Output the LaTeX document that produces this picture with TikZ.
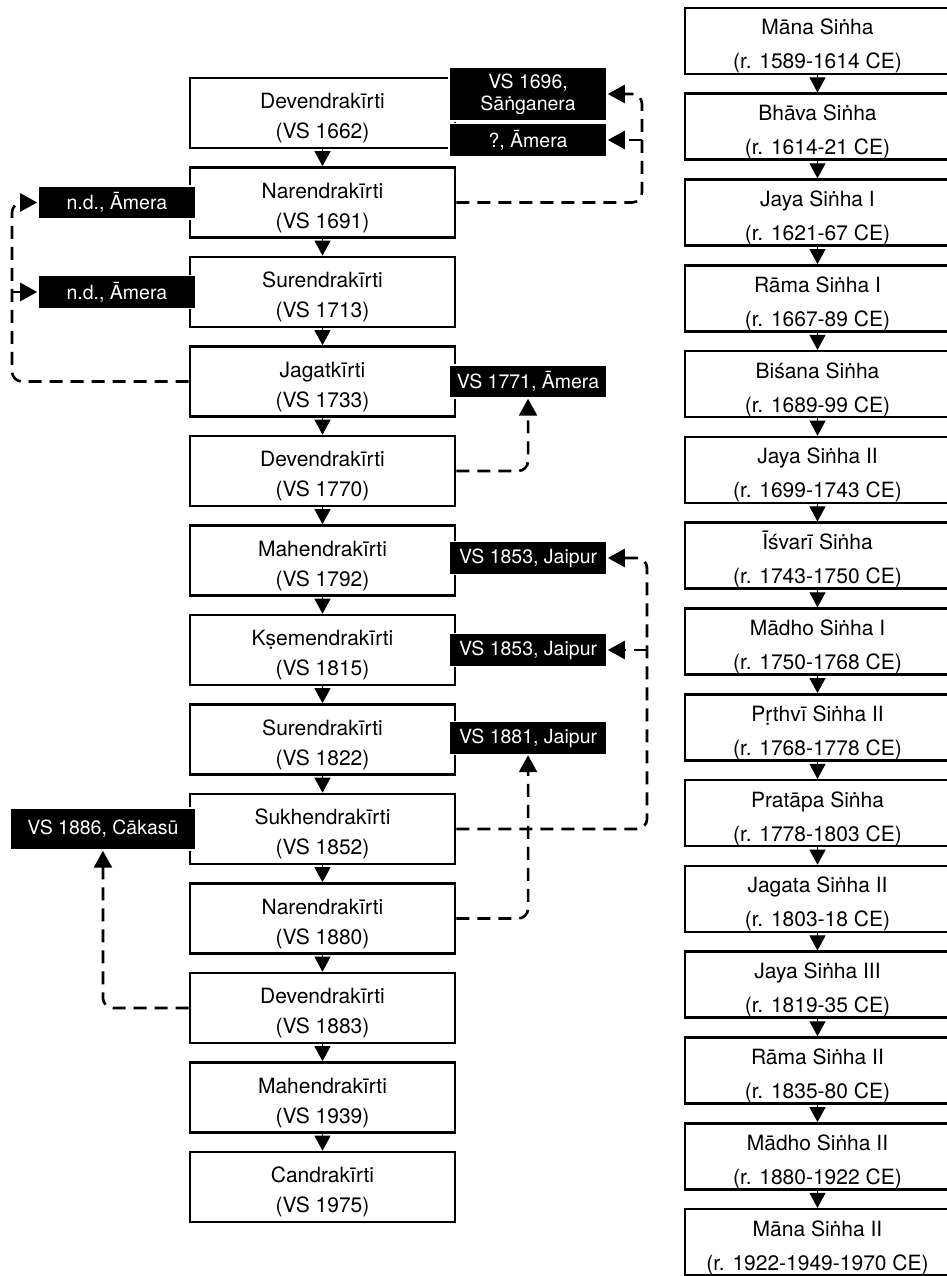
\documentclass[tikz,border=0pt]{standalone}
\usepackage{fontspec}
\setmainfont{TeX Gyre Heros}
\usetikzlibrary{positioning,graphs,arrows.meta}

\begin{document}
\begin{tikzpicture}[x=1pt, y=1pt,
  full/.style={rectangle, draw, line width=2.6pt, fill=white, minimum width=265pt,
    minimum height=70pt, inner sep=0pt, align=center, text height=55pt, text depth=3pt,
    font=\fontsize{21}{30}\selectfont},
  rull/.style={full, minimum height=66pt, text height=59pt,
    font=\fontsize{21}{34}\selectfont},
  tag/.style={rectangle, fill=black, draw=white, line width=1.5pt, text=white,
    minimum width=158pt, minimum height=33pt, inner sep=0pt, align=center,
    font=\fontsize{19.5}{22}\selectfont},
  link/.style={line width=2.6pt, dash pattern=on 13pt off 8pt, rounded corners=10pt,
    -{Triangle[width=18pt,length=17pt]}},
  down/.style={line width=1pt, >={Triangle[width=16pt,length=15pt]}}]
\useasboundingbox (0,0) rectangle (946,1276);

\begin{scope}[shift={(322.5,1163)}]
\graph [grow down=89.5pt, nodes={full}, edges={down}]
  { dev1 [as={Devendrakīrti\\(VS 1662)}] -> nar1 [as={Narendrakīrti\\(VS 1691)}]
    -> sur1 [as={Surendrakīrti\\(VS 1713)}] -> jag1 [as={Jagatkīrti\\(VS 1733)}]
    -> dev2 [as={Devendrakīrti\\(VS 1770)}] -> mah1 [as={Mahendrakīrti\\(VS 1792)}]
    -> ksm [as={Kṣemendrakīrti\\(VS 1815)}] -> sur2 [as={Surendrakīrti\\(VS 1822)}]
    -> suk [as={Sukhendrakīrti\\(VS 1852)}] -> nar2 [as={Narendrakīrti\\(VS 1880)}]
    -> dev3 [as={Devendrakīrti\\(VS 1883)}] -> mah2 [as={Mahendrakīrti\\(VS 1939)}]
    -> can [as={Candrakīrti\\(VS 1975)}];
  };
\end{scope}

\begin{scope}[shift={(817.5,1235)}]
\graph [grow down=85.8pt, nodes={rull}, edges={down}]
  { man1 [as={Māna Siṅha\\(r. 1589-1614 CE)}] -> bha [as={Bhāva Siṅha\\(r. 1614-21 CE)}]
    -> jay1 [as={Jaya Siṅha I\\(r. 1621-67 CE)}] -> ram1 [as={Rāma Siṅha I\\(r. 1667-89 CE)}]
    -> bis [as={Biśana Siṅha\\(r. 1689-99 CE)}] -> jay2 [as={Jaya Siṅha II\\(r. 1699-1743 CE)}]
    -> isv [as={Īśvarī Siṅha\\(r. 1743-1750 CE)}] -> mad1 [as={Mādho Siṅha I\\(r. 1750-1768 CE)}]
    -> prt [as={Pṛthvī Siṅha II\\(r. 1768-1778 CE)}] -> pra [as={Pratāpa Siṅha\\(r. 1778-1803 CE)}]
    -> jag2 [as={Jagata Siṅha II\\(r. 1803-18 CE)}] -> jay3 [as={Jaya Siṅha III\\(r. 1819-35 CE)}]
    -> ram2 [as={Rāma Siṅha II\\(r. 1835-80 CE)}] -> mad2 [as={Mādho Siṅha II\\(r. 1880-1922 CE)}]
    -> man2 [as={Māna Siṅha II\\(r. 1922-1949-1970 CE)}];
  };
\end{scope}

\node[tag, minimum height=54pt, right=-8pt of dev1, yshift=19pt] (sang) {VS 1696,\\Sāṅganera};
\node[tag, right=-8pt of dev1, yshift=-27pt] (ame1) {?, Āmera};
\node[tag, left=-8pt of nar1] (nd1) {n.d., Āmera};
\node[tag, left=-8pt of sur1] (nd2) {n.d., Āmera};
\node[tag, right=-8pt of jag1] (ame2) {VS 1771, Āmera};
\node[tag, right=-8pt of mah1, yshift=2.5pt] (jai1) {VS 1853, Jaipur};
\node[tag, right=-8pt of ksm] (jai2) {VS 1853, Jaipur};
\node[tag, right=-8pt of sur2, yshift=1.5pt] (jai3) {VS 1881, Jaipur};
\node[tag, minimum width=186pt, minimum height=42pt, left=-8pt of suk] (cak) {VS 1886, Cākasū};

\coordinate (r1) at (642,0);
\coordinate (r2) at (647,0);
\coordinate (l1) at (12,0);
\draw[link] (nar1.east) -- (nar1.east -| r1) |- (sang.east);
\draw[link] (ame1.east -| r1) -- (ame1.east);
\draw[link] (jag1.west) -- (jag1.west -| l1) |- (nd1.west);
\draw[link] (nd2.west -| l1) -- (nd2.west);
\draw[link] (dev2.east) -| (ame2.south);
\draw[link] (suk.east) -- (suk.east -| r2) |- (jai1.east);
\draw[link] (jai2.east -| r2) -- (jai2.east);
\draw[link] (nar2.east) -| (jai3.south);
\draw[link] (dev3.west) -| (cak.south);
\end{tikzpicture}
\end{document}
